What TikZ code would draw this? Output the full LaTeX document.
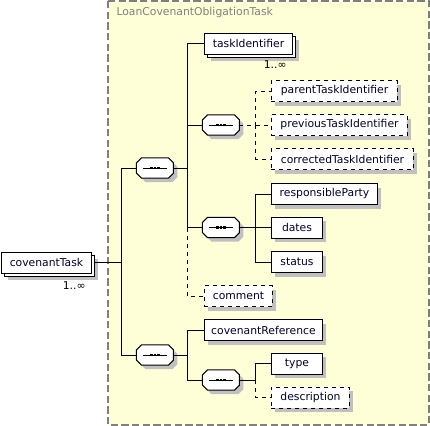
\documentclass[tikz,border=0pt]{standalone}
\usepackage{fontspec}
\setmainfont{DejaVu Sans}
\usetikzlibrary{positioning}
\usetikzlibrary{shadows}
\definecolor{groupfill}{RGB}{255,255,215}
\definecolor{shadowgray}{RGB}{192,192,192}
\definecolor{textnavy}{RGB}{0,0,48}
% octagon outline of a sequence compositor
\newcommand{\octpath}[1]{([xshift=3.8pt]#1.north west) -- ([xshift=-3.8pt]#1.north east)
    -- ([yshift=-3.8pt]#1.north east) -- ([yshift=3.8pt]#1.south east)
    -- ([xshift=-3.8pt]#1.south east) -- ([xshift=3.8pt]#1.south west)
    -- ([yshift=3.8pt]#1.south west) -- ([yshift=-3.8pt]#1.north west) -- cycle}
\begin{document}
\begin{tikzpicture}[x=0.75pt, y=-0.75pt,
                        every node/.style={font=\fontsize{8.1}{9.5}\selectfont, text=textnavy, line width=0.75pt},
                        elem/.style={draw, fill=white, rectangle, anchor=west, inner sep=0pt,
                            minimum width=#1*0.75pt, minimum height=15.75pt,
                            drop shadow={shadow xshift=3pt, shadow yshift=-3pt, fill=shadowgray, opacity=1}},
                        optelem/.style={elem=#1, dashed},
                        manyelem/.style={draw, fill=white, rectangle, anchor=west, inner sep=0pt,
                            minimum width=#1*0.75pt, minimum height=15.75pt,
                            drop shadow={shadow xshift=5.25pt, shadow yshift=-5.25pt, fill=shadowgray, opacity=1},
                            copy shadow={shadow xshift=2.25pt, shadow yshift=-2.25pt, draw=black, fill=white, line width=0.75pt}},
                        seqbox/.style={rectangle, minimum width=27pt, minimum height=14.5pt, inner sep=0pt},
                        link/.style={draw, line width=0.75pt},
                        optlink/.style={link, dashed},
                        mult/.style={inner sep=0pt, text=black}]
        \useasboundingbox (0,0) rectangle (430,426);
        % group box
        \fill[groupfill] (108,1) rectangle (429,425);
        \draw[gray, line width=0.9pt, dash pattern=on 5.5pt off 2.5pt] (108,1) rectangle (429,425);
        \node[anchor=west, text=gray, inner sep=0pt] (grp) at (116,13) {LoanCovenantObligationTask};

        % elements
        \node[manyelem=90] (cov) at (1,262.5) {covenantTask};
        \node[mult, anchor=north east] (covm) at (86,281) {1..∞};
        \node[seqbox] (seq1) at (155,168) {};
        \node[seqbox] (seq2) at (155,355) {};

        \node[manyelem=88] (task) at (204,43.5) {taskIdentifier};
        \node[mult, anchor=north east] (taskm) at (287,60) {1..∞};
        \node[seqbox] (seq1a) at (221,125) {};
        \node[optelem=126] (parent) at (271,91) {parentTaskIdentifier};
        \node[optelem=136] (prev) at (271,125) {previousTaskIdentifier};
        \node[optelem=142] (corr) at (271,159) {correctedTaskIdentifier};
        \node[seqbox] (seq1b) at (221,227.5) {};
        \node[elem=106] (resp) at (271,194) {responsibleParty};
        \node[elem=51] (dates) at (271,227.5) {dates};
        \node[elem=51] (status) at (271,262) {status};
        \node[optelem=68] (comment) at (204,296) {comment};

        \node[elem=118] (covref) at (204,330) {covenantReference};
        \node[seqbox] (seq2a) at (221,380) {};
        \node[elem=51] (type) at (271,363.5) {type};
        \node[optelem=78] (descr) at (271,397.5) {description};

        % sequence compositors
        \foreach \s in {seq1,seq2,seq1a,seq1b,seq2a} {
            \fill[shadowgray, transform canvas={shift={(3pt,-3pt)}}] \octpath{\s};
            \draw[fill=white, line width=0.75pt] \octpath{\s};
            \draw[line width=0.75pt] ([xshift=-9pt]\s.center) -- ([xshift=9pt]\s.center);
            \foreach \d in {-2.7,0,2.7}
                \fill[black] ([xshift=\d pt]\s.center) +(-1.1pt,-1.1pt) rectangle +(1.1pt,1.1pt);
        }

        % connectors
        \coordinate (j0) at (122,262.5);
        \coordinate (j1) at (188,168);
        \coordinate (j2) at (188,355);
        \coordinate (j1a) at (256,125);
        \coordinate (j1b) at (256,227.5);
        \coordinate (j2a) at (256,380);

        \path[link] ([xshift=2.25pt]cov.east) -- (j0) |- (seq1.west);
        \path[link] (j0) |- (seq2.west);

        \path[link] (seq1.east) -- (j1) |- (task.west);
        \path[link] (j1) |- (seq1a.west);
        \path[link] (j1) |- (seq1b.west);
        \path[optlink] (seq1b.west -| j1) |- (comment.west);

        \path[optlink] (seq1a.east) -- (j1a) |- (parent.west);
        \path[optlink] (j1a) -- (prev.west);
        \path[optlink] (j1a) |- (corr.west);

        \path[link] (seq1b.east) -- (j1b) |- (resp.west);
        \path[link] (j1b) -- (dates.west);
        \path[link] (j1b) |- (status.west);

        \path[link] (seq2.east) -- (j2) |- (covref.west);
        \path[link] (j2) |- (seq2a.west);

        \path[link] (seq2a.east) -- (j2a) |- (type.west);
        \path[optlink] (j2a) |- (descr.west);
    \end{tikzpicture}
\end{document}
